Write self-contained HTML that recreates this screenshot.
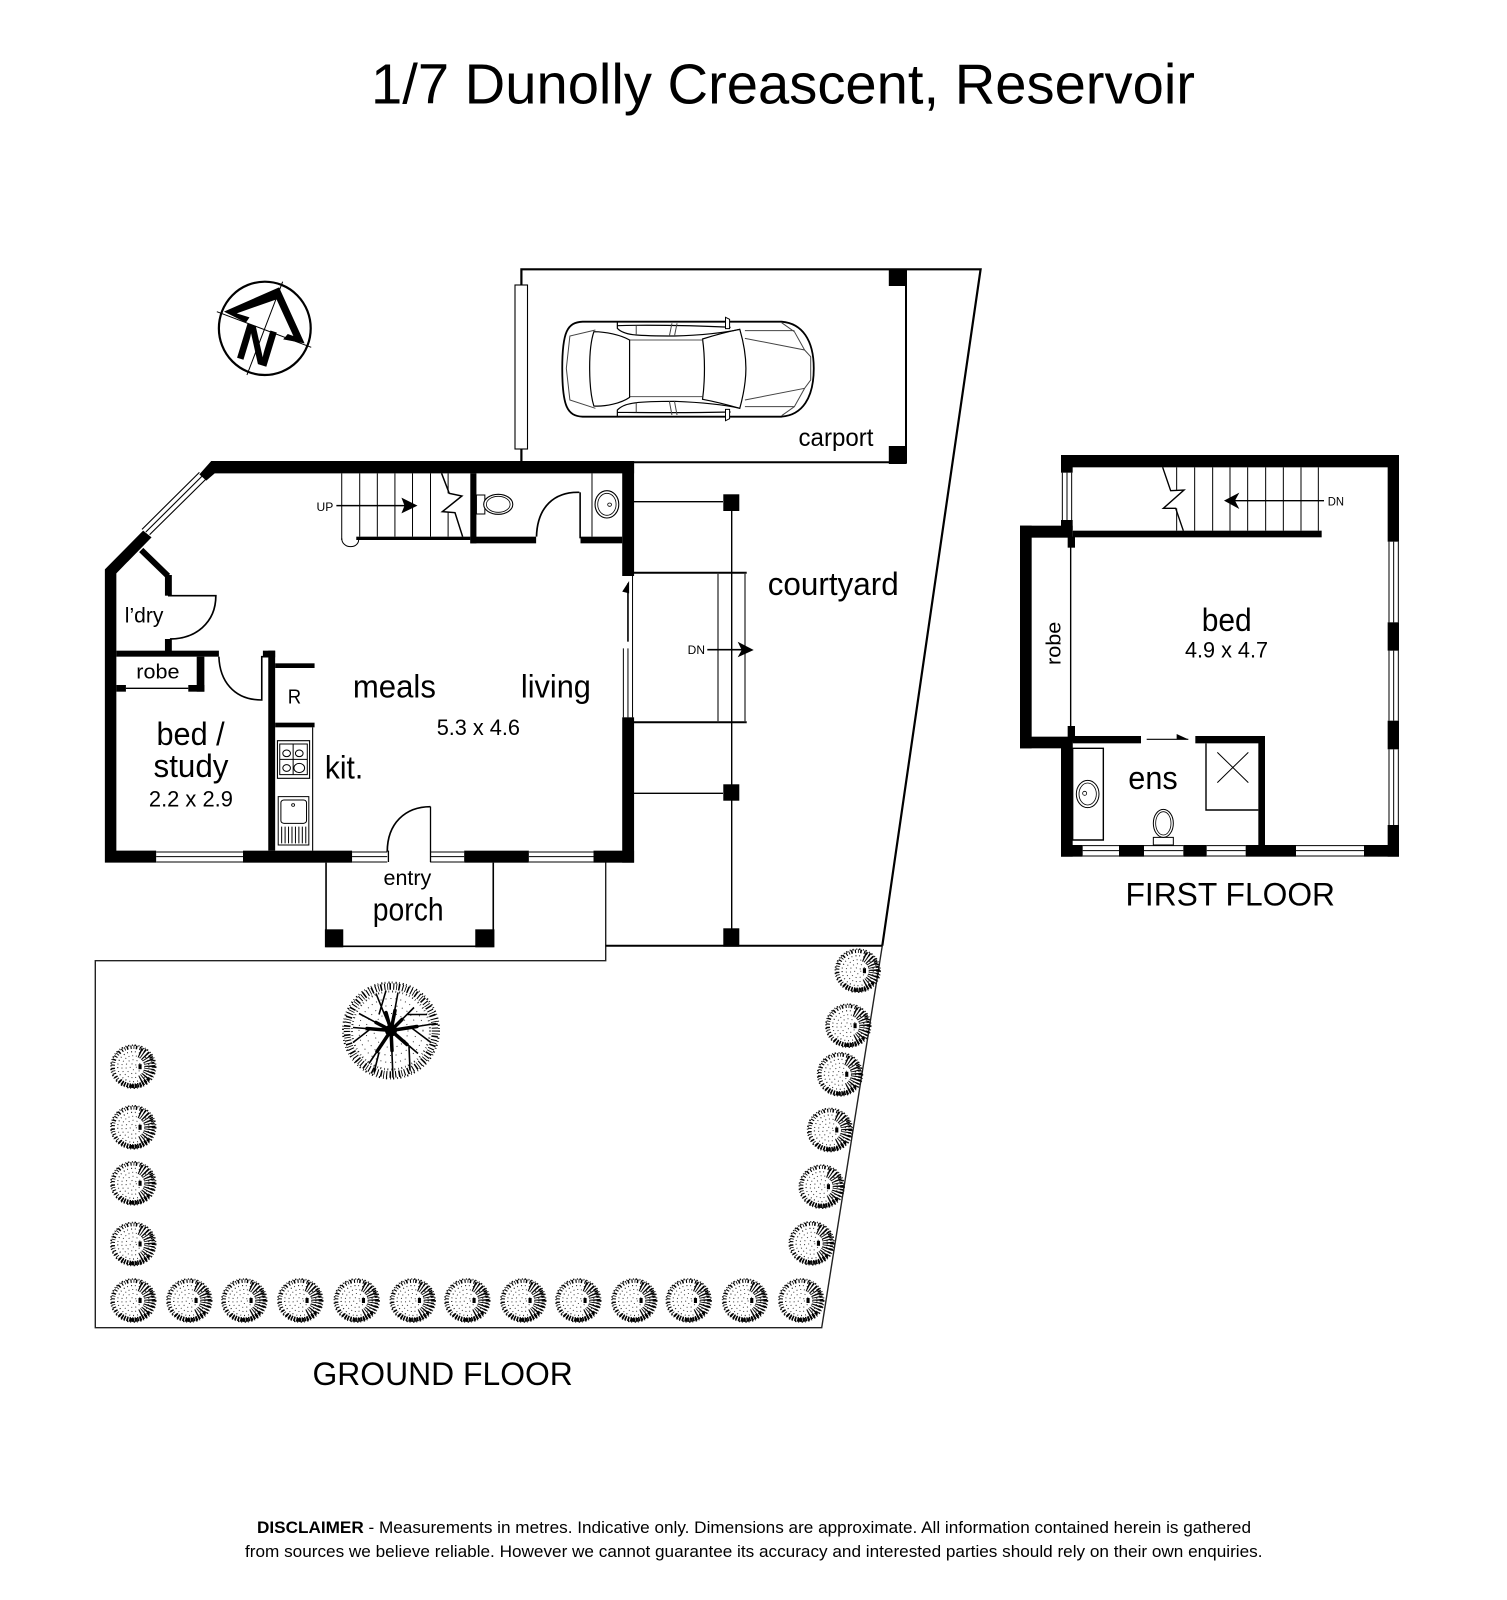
<!DOCTYPE html>
<html><head><meta charset="utf-8"><style>
html,body{margin:0;padding:0;background:#fff}
svg{display:block}
text{font-family:"Liberation Sans",Arial,sans-serif;fill:#000}
.n *{vector-effect:non-scaling-stroke}
</style></head><body>
<svg xmlns="http://www.w3.org/2000/svg" width="1507" height="1600" viewBox="0 0 1507 1600">
<defs>
<g id="b" transform="scale(1.04,1)">
<circle r="19.5" fill="none" stroke="#000" stroke-width="3.6" stroke-dasharray="1.1 1.9 .8 1.4 1.5 2.2"/>
<circle r="21.5" fill="none" stroke="#111" stroke-width="1.6" stroke-dasharray="1.4 2.4 .9 1.7"/>
<path d="M6,-14A15,15 0 0 1 6,14" fill="none" stroke="#000" stroke-width="10" stroke-dasharray="1.4 1.5 1 1.7"/>
<path d="M-13,14A19,19 0 0 0 13,14" fill="none" stroke="#000" stroke-width="4.5" stroke-dasharray="1.5 1.1"/>
<circle r="15" fill="none" stroke="#222" stroke-width="1.2" stroke-dasharray="1 2.7 .8 3.1"/>
<circle r="11" fill="none" stroke="#444" stroke-width="1" stroke-dasharray="1 2.6"/>
<circle r="7" fill="none" stroke="#444" stroke-width="1" stroke-dasharray="1 3"/>
<circle r="3" fill="none" stroke="#444" stroke-width="1" stroke-dasharray="1 3"/>
<rect x="5" y="-2.5" width="3" height="5" fill="#000"/>
</g>
</defs>

<text x="371" y="103.3" font-size="57" textLength="824" lengthAdjust="spacingAndGlyphs">1/7 Dunolly Creascent, Reservoir</text>

<!-- site lines -->
<g fill="none" stroke="#000">
<path d="M521.4,461V269.3H980.6L882.3,945.7" stroke-width="2.2"/>
<path d="M882.3,945.7L821.7,1327.7H95.3V960.7H605.7V862" stroke="#222" stroke-width="1.4"/>
<path d="M605.7,945.7H882.3" stroke-width="2"/>
<path d="M634,462.3H906V269.3" stroke-width="2"/>
<path d="M634,501.7H723M634,793.3H723M731.7,511V930" stroke-width="1.4"/>
<path d="M634,572.7H746.7M634,722.3H746.7" stroke-width="2"/>
<path d="M718,572.7V722.3M745,572.7V722.3" stroke="#333" stroke-width="1.3"/>
<rect x="515" y="285" width="12.5" height="164" fill="#fff" stroke-width="1.1"/>
<path d="M707.3,649.7H746" stroke-width="1.6"/>
</g>
<g fill="#000">
<rect x="888.8" y="269.3" width="17.8" height="16.7"/>
<rect x="888.8" y="446" width="17.8" height="18"/>
<rect x="723.3" y="494.3" width="16" height="16.7"/>
<rect x="723.3" y="784.3" width="16" height="16.4"/>
<rect x="723.3" y="928.3" width="16" height="18.4"/>
<polygon points="737.7,641.7 753.7,650 737.7,657.3 741.7,650"/>
</g>

<!-- compass -->
<g transform="translate(200,260) scale(.5102,.33333)" class="n" fill="none" stroke="#000">
<ellipse cx="127" cy="205" rx="90" ry="140" stroke-width="2.2"/>
<path d="M162,65L92,345M33,155L218,262" stroke-width="1"/>
<polygon points="47,155 155,82 205,250 163,238 172,222 183,228 150,118 72,160 97,172 90,188" fill="#000" stroke="none"/>
</g>
<text transform="translate(257,345) rotate(17)" x="0" y="18" text-anchor="middle" font-size="52" font-weight="bold">N</text>

<!-- car -->
<g transform="translate(200,260) scale(.5102,.33333)" class="n" fill="none" stroke="#000">
<path d="M750,185H1140C1180,190 1203,240 1203,325C1203,415 1180,465 1140,470H750C720,468 710,440 710,325C710,215 720,187 750,185Z" stroke-width="1.8"/>
<path d="M985,237C1010,225 1035,215 1058,208C1066,250 1070,290 1070,325C1070,365 1066,400 1058,445C1035,435 1010,425 985,418C990,360 990,290 985,237Z" stroke-width="1.2"/>
<path d="M842,240C980,240 842,240 985,240M842,410H985" stroke="#555" stroke-width="1"/>
<path d="M842,240C842,300 842,360 842,412C825,430 795,440 772,438C762,390 760,270 772,215C795,215 825,225 842,240Z" stroke-width="1.2"/>
<path d="M818,186V205C830,225 850,228 930,228C980,226 1030,218 1058,208M1040,202C980,197 880,194 818,197" stroke-width="1.2"/>
<path d="M818,468V450C830,430 850,424 930,424C980,427 1030,435 1058,445M1040,456C980,458 880,458 818,457" stroke-width="1.2"/>
<path d="M1030,172L1038,178V206H1030ZM1030,482L1038,476V448H1030Z" fill="#fff" stroke-width="1"/>
<path d="M1068,235L1185,270L1197,290V360L1185,385L1068,420M1140,188L1165,215L1185,270M1140,467L1165,440L1185,385M1068,212H1165M1068,440H1165" stroke="#444" stroke-width="1"/>
<path d="M775,210L725,228L718,325L725,420L775,445M925,190L920,228M935,190L930,228M925,465L920,424M935,465L930,424M855,197V225M855,457V428" stroke="#444" stroke-width="1"/>
</g>
<text x="798.5" y="446" font-size="25" textLength="75" lengthAdjust="spacingAndGlyphs">carport</text>

<!-- ground floor -->
<g transform="translate(80,440) scale(.38265,.33333)" class="n">
<g fill="#000">
<polygon points="343,63 1448,63 1448,100 352,100 330,122 312,103"/>
<polygon points="165,272 187,292 95,400 95,1232 199,1232 199,1268 65,1268 65,388"/>
<rect x="426" y="1232" width="285" height="36"/>
<rect x="1004" y="1232" width="169" height="36"/>
<rect x="1342" y="1232" width="106" height="36"/>
<rect x="1417" y="63" width="31" height="345"/>
<rect x="1417" y="832" width="31" height="436"/>
<rect x="1020" y="100" width="16" height="210"/>
<rect x="1020" y="290" width="172" height="20"/>
<rect x="1308" y="290" width="109" height="20"/>
<rect x="722" y="290" width="298" height="10"/>
<rect x="222" y="405" width="18" height="62"/>
<rect x="222" y="597" width="18" height="40"/>
<rect x="95" y="632" width="268" height="18"/>
<rect x="305" y="650" width="20" height="105"/>
<rect x="283" y="735" width="42" height="20"/>
<rect x="95" y="735" width="25" height="20"/>
<rect x="478" y="632" width="32" height="20"/>
<rect x="492" y="632" width="18" height="600"/>
<rect x="510" y="670" width="103" height="14"/>
<rect x="510" y="848" width="103" height="14"/>
<rect x="640" y="1468" width="48" height="54"/>
<rect x="1033" y="1468" width="50" height="54"/>
<polygon points="840,173 882,197 840,220 848,197"/>
<polygon points="1435,423 1435,460 1417,455"/>
</g>
<g fill="none" stroke="#000">
<path d="M160,330L230,408" stroke-width="6"/>
<path d="M322,105L172,276M332,114L182,284M312,97L162,268" stroke-width="1.1"/>
<path d="M199,1236H426M199,1250H426M199,1266H426M711,1236H803M711,1250H803M711,1266H803M915,1236H1004M915,1250H1004M915,1266H1004M1173,1236H1342M1173,1250H1342M1173,1266H1342" stroke-width="1"/>
<path d="M1420,625V832M1432,625V832M1444,408V832" stroke-width="1"/>
<path d="M1432,430V605" stroke-width="1.6"/>
<path d="M1338,100V290" stroke-width="1"/>
<path d="M1307,157V295" stroke-width="1.6"/>
<path d="M1305,157C1240,155 1195,200 1193,290" stroke-width="1.7"/>
<rect x="1036" y="165" width="22" height="57" stroke-width="1"/>
<ellipse cx="1093" cy="193" rx="38" ry="30" fill="#fff" stroke-width="1.1"/>
<ellipse cx="1093" cy="193" rx="31" ry="24" stroke-width=".8"/>
<ellipse cx="1377" cy="193" rx="31" ry="41" stroke-width="1.1"/>
<ellipse cx="1377" cy="193" rx="24" ry="33" stroke-width=".8"/>
<ellipse cx="1384" cy="194" rx="5" ry="5" stroke-width=".8"/>
<path d="M684,100V300M731,100V290M777,100V290M823,100V290M869,100V290M916,100V290M962,100V160M962,215V290" stroke-width="1"/>
<path d="M684,295C684,310 695,320 707,320C720,320 730,310 728,295" stroke-width="1"/>
<path d="M945,100L965,160L998,168L947,215L980,218L1000,290" fill="none" stroke-width="1.5"/>
<path d="M670,197H850" stroke-width="1.5"/>
<path d="M230,467H355C355,550 300,597 235,597" stroke-width="1.7"/>
<path d="M120,745H283" stroke-width="1.3"/>
<path d="M363,650C365,720 400,780 475,780V650H492" stroke-width="1.6"/>
<path d="M608,862V1232" stroke-width="1.1"/>
<rect x="516" y="902" width="84" height="113" stroke-width="1.1"/>
<rect x="522" y="912" width="72" height="92" stroke-width="1"/>
<path d="M557,912V1004M522,958H594" stroke-width="1"/>
<ellipse cx="540" cy="940" rx="10" ry="10" fill="#fff" stroke-width="1"/>
<ellipse cx="573" cy="940" rx="10" ry="10" fill="#fff" stroke-width="1"/>
<ellipse cx="540" cy="984" rx="10" ry="10" fill="#fff" stroke-width="1"/>
<ellipse cx="573" cy="984" rx="14" ry="14" fill="#fff" stroke-width="1"/>
<rect x="518" y="1070" width="80" height="145" stroke-width="1"/>
<rect x="525" y="1080" width="67" height="70" rx="8" stroke-width="1"/>
<ellipse cx="557" cy="1095" rx="4" ry="4" stroke-width=".8"/>
<path d="M527,1160V1210M536,1160V1210M545,1160V1210M554,1160V1210M563,1160V1210M572,1160V1210M581,1160V1210M590,1160V1210" stroke-width="1"/>
<path d="M916,1100V1266M806,1232V1266" stroke-width="1.3"/>
<path d="M916,1100C850,1100 803,1150 803,1235" stroke-width="1.7"/>
<path d="M643,1268V1520M1080,1268V1520M643,1519H1080" stroke-width="1.6"/>
</g>
</g>
<text x="124.8" y="622.7" font-size="21.5" textLength="38.6" lengthAdjust="spacingAndGlyphs">l’dry</text>
<text x="136.3" y="678.7" font-size="20.5" textLength="43.2" lengthAdjust="spacingAndGlyphs">robe</text>
<text x="352.9" y="697.5" font-size="32" textLength="83" lengthAdjust="spacingAndGlyphs">meals</text>
<text x="520.9" y="697.5" font-size="32" textLength="70" lengthAdjust="spacingAndGlyphs">living</text>
<text x="287.8" y="703.3" font-size="20.5" textLength="13.4" lengthAdjust="spacingAndGlyphs">R</text>
<text x="436.7" y="735" font-size="22.5" textLength="83.3" lengthAdjust="spacingAndGlyphs">5.3 x 4.6</text>
<text x="156.5" y="745" font-size="32" textLength="68.2" lengthAdjust="spacingAndGlyphs">bed /</text>
<text x="153.5" y="777" font-size="32" textLength="75" lengthAdjust="spacingAndGlyphs">study</text>
<text x="148.9" y="806.7" font-size="22.5" textLength="84" lengthAdjust="spacingAndGlyphs">2.2 x 2.9</text>
<text x="324.9" y="778.5" font-size="32" textLength="38.3" lengthAdjust="spacingAndGlyphs">kit.</text>
<text x="383.5" y="885" font-size="21.5" textLength="47.8" lengthAdjust="spacingAndGlyphs">entry</text>
<text x="372.8" y="920.5" font-size="32" textLength="70.8" lengthAdjust="spacingAndGlyphs">porch</text>
<text x="316.5" y="511" font-size="11.5" textLength="16.8" lengthAdjust="spacingAndGlyphs">UP</text>
<text x="767.7" y="595" font-size="32" textLength="131" lengthAdjust="spacingAndGlyphs">courtyard</text>
<text x="687.7" y="654" font-size="11.5" textLength="17.3" lengthAdjust="spacingAndGlyphs">DN</text>

<!-- first floor -->
<g transform="translate(1000,440) scale(.33333)" class="n">
<g fill="#000">
<rect x="183" y="45" width="1014" height="37"/>
<rect x="183" y="45" width="35" height="53"/>
<rect x="183" y="240" width="35" height="30"/>
<rect x="1163" y="45" width="34" height="260"/>
<rect x="1163" y="547" width="34" height="85"/>
<rect x="1163" y="842" width="34" height="86"/>
<rect x="1163" y="1155" width="34" height="95"/>
<rect x="183" y="1215" width="65" height="35"/>
<rect x="357" y="1215" width="75" height="35"/>
<rect x="550" y="1215" width="70" height="35"/>
<rect x="737" y="1215" width="151" height="35"/>
<rect x="1092" y="1215" width="105" height="35"/>
<rect x="183" y="905" width="35" height="345"/>
<rect x="60" y="257" width="35" height="668"/>
<rect x="60" y="257" width="158" height="36"/>
<rect x="60" y="890" width="158" height="35"/>
<rect x="218" y="272" width="747" height="20"/>
<rect x="203" y="290" width="22" height="33"/>
<rect x="203" y="858" width="22" height="47"/>
<rect x="218" y="888" width="205" height="22"/>
<rect x="586" y="888" width="209" height="22"/>
<rect x="775" y="888" width="20" height="327"/>
<polygon points="718,158 672,182 718,207 705,182"/>
<polygon points="530,882 565,898 530,898"/>
</g>
<g fill="none" stroke="#000">
<path d="M187,98V240M201,98V240M215,98V240" stroke-width="1"/>
<path d="M1167,305V547M1181,305V547M1195,305V547M1167,632V842M1181,632V842M1195,632V842M1167,928V1155M1181,928V1155M1195,928V1155" stroke-width="1"/>
<path d="M248,1217H357M248,1232H357M248,1248H357M432,1217H550M432,1232H550M432,1248H550M620,1217H737M620,1232H737M620,1248H737M888,1217H1092M888,1232H1092M888,1248H1092" stroke-width="1"/>
<path d="M212,320V860" stroke-width="1.4"/>
<path d="M440,898H565" stroke-width="1.2"/>
<path d="M618,910V1110H775" stroke-width="1.4"/>
<path d="M652,937L745,1028M745,937L652,1028" stroke-width="1"/>
<rect x="218" y="925" width="92" height="275" stroke-width="1.4"/>
<ellipse cx="263" cy="1062" rx="34" ry="41" stroke-width="1"/>
<ellipse cx="263" cy="1062" rx="26" ry="33" stroke-width=".8"/>
<circle cx="254" cy="1060" r="6" stroke-width=".8"/>
<rect x="460" y="1192" width="60" height="23" stroke-width="1"/>
<ellipse cx="490" cy="1150" rx="30" ry="42" fill="#fff" stroke-width="1"/>
<ellipse cx="490" cy="1150" rx="23" ry="35" stroke-width=".8"/>
<path d="M584,82V272M638,82V272M690,82V272M743,82V272M797,82V272M850,82V272M903,82V272M955,82V272M530,82V150M530,205V272" stroke-width="1"/>
<path d="M488,82L512,152L552,150L490,205L527,205L550,272" fill="none" stroke-width="1.4"/>
<path d="M700,182H972" stroke-width="1.4"/>
</g>
</g>
<text x="1201.7" y="631" font-size="32" textLength="50" lengthAdjust="spacingAndGlyphs">bed</text>
<text x="1185" y="657.3" font-size="22.5" textLength="83" lengthAdjust="spacingAndGlyphs">4.9 x 4.7</text>
<text x="1128.3" y="789" font-size="32" textLength="49.4" lengthAdjust="spacingAndGlyphs">ens</text>
<text transform="translate(1060.7,665) rotate(-90)" font-size="20.5" textLength="43.3" lengthAdjust="spacingAndGlyphs">robe</text>
<text x="1327.7" y="505.7" font-size="11.5" textLength="16.3" lengthAdjust="spacingAndGlyphs">DN</text>
<text x="1125.5" y="905.7" font-size="32" textLength="209.5" lengthAdjust="spacingAndGlyphs">FIRST FLOOR</text>
<text x="312.5" y="1385" font-size="32" textLength="260.3" lengthAdjust="spacingAndGlyphs">GROUND FLOOR</text>

<!-- big tree -->
<g transform="translate(391,1030.5)" fill="none" stroke="#000">
<circle r="44" stroke-width="6.5" stroke-dasharray="1.1 1.9 .8 1.4 1.6 2.3"/>
<circle r="48" stroke-width="2" stroke-dasharray="1.2 2.2 .8 3"/>
<circle r="39" stroke-width="2" stroke="#222" stroke-dasharray="1 2.4 .7 3"/>
<circle r="32" stroke-width="1" stroke="#333" stroke-dasharray="1 4"/>
<circle r="25" stroke-width="1" stroke="#333" stroke-dasharray="1 4.6"/>
<circle r="17" stroke-width="1" stroke="#333" stroke-dasharray="1 4"/>
<g stroke-width="1.6">
<path d="M0,0L-38,-3M0,0L45,-7M0,0L-22,33M0,0L27,23M0,0L2,47M0,0L-32,-17M0,0L-15,-37M0,0L7,-38M0,0L23,-23M-12,-16L-5,-40M16,-16L36,-16M-12,22L-17,42M18,16L19,40M-20,-2L-38,12M20,-3L40,12"/>
</g>
<g stroke-width="3.5" stroke-linecap="round">
<path d="M0,0L-24,-2M0,0L26,-4M0,0L-14,21M0,0L16,14M0,0L1,20M0,0L-15,-8M0,0L-5,-18M0,0L4,-20M0,0L11,-11"/>
</g>
<circle r="6" fill="#000" stroke="none"/>
</g>

<!-- shrubs -->
<g>
<use href="#b" x="133.3" y="1066.7"/><use href="#b" x="133.3" y="1127.3"/><use href="#b" x="133.3" y="1183.3"/><use href="#b" x="133.3" y="1244"/>
<use href="#b" x="133.3" y="1300.5"/><use href="#b" x="189.3" y="1300.5"/><use href="#b" x="244.3" y="1300.5"/><use href="#b" x="300.3" y="1300.5"/><use href="#b" x="356.7" y="1300.5"/><use href="#b" x="412.7" y="1300.5"/><use href="#b" x="467.3" y="1300.5"/><use href="#b" x="523.3" y="1300.5"/><use href="#b" x="578.3" y="1300.5"/><use href="#b" x="634.3" y="1300.5"/><use href="#b" x="688.7" y="1300.5"/><use href="#b" x="745" y="1300.5"/><use href="#b" x="801.3" y="1300.5"/>
<use href="#b" x="811.7" y="1243.3"/><use href="#b" x="821.7" y="1186.7"/><use href="#b" x="830" y="1130"/><use href="#b" x="840" y="1074.3"/><use href="#b" x="848.3" y="1025.7"/><use href="#b" x="857.7" y="970.7"/>
</g>

<text x="257" y="1533" font-size="17" textLength="994" lengthAdjust="spacingAndGlyphs"><tspan font-weight="bold">DISCLAIMER</tspan> - Measurements in metres. Indicative only. Dimensions are approximate. All information contained herein is gathered</text>
<text x="245" y="1557" font-size="17" textLength="1017.5" lengthAdjust="spacingAndGlyphs">from sources we believe reliable. However we cannot guarantee its accuracy and interested parties should rely on their own enquiries.</text>
</svg>
</body></html>
